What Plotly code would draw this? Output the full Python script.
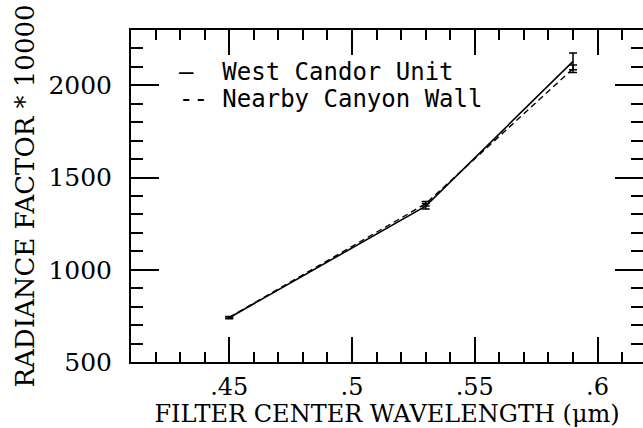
"""
Radiance factor vs filter center wavelength
"""
import plotly.graph_objects as go

# data
wavelength = [0.45, 0.53, 0.59]
west_candor = [740, 1345, 2130]
west_candor_err = [6, 15, 45]
canyon_wall = [742, 1358, 2090]
canyon_wall_err = [5, 12, 20]

x_tick_alias = {"0.45": ".45", "0.5": ".5", "0.55": ".55", "0.6": ".6"}

fig = go.Figure()

# West Candor Unit (solid)
fig.add_trace(go.Scatter(
    x=wavelength, y=west_candor,
    mode='lines',
    name='West Candor Unit',
    line=dict(color='black', width=1.6),
    error_y=dict(type='data', array=west_candor_err, color='black',
                 thickness=1.5, width=4),
))

# Nearby Canyon Wall (dashed)
fig.add_trace(go.Scatter(
    x=wavelength, y=canyon_wall,
    mode='lines',
    name='Nearby Canyon Wall',
    line=dict(color='black', width=1.4, dash='6px,4px'),
    error_y=dict(type='data', array=canyon_wall_err, color='black',
                 thickness=1.5, width=4),
))

# legend typed as text, like the original
legend_font = dict(family='DejaVu Sans Mono', size=24, color='black')
fig.add_annotation(x=0.09, y=0.875, xref='paper', yref='paper',
                   text='—  West Candor Unit', showarrow=False,
                   xanchor='left', yanchor='middle', font=legend_font)
fig.add_annotation(x=0.09, y=0.793, xref='paper', yref='paper',
                   text='-- Nearby Canyon Wall', showarrow=False,
                   xanchor='left', yanchor='middle', font=legend_font)

fig.update_layout(
    width=643, height=428,
    margin=dict(l=131, r=0, t=30, b=66),
    paper_bgcolor='white', plot_bgcolor='white',
    showlegend=False,
    font=dict(family='DejaVu Serif', color='black'),
)

fig.update_xaxes(
    range=[0.41, 0.6185],
    tickmode='linear', tick0=0.45, dtick=0.05, tickformat='.2~f',
    labelalias=x_tick_alias,
    ticks='inside', ticklen=25, tickwidth=2, tickcolor='black',
    minor=dict(dtick=0.01, tick0=0.41, ticks='inside', ticklen=10,
               tickwidth=1.5, tickcolor='black', showgrid=False),
    showline=True, linewidth=2, linecolor='black', mirror='ticks',
    showgrid=False, zeroline=False, automargin=False,
    tickfont=dict(size=24), ticklabelstandoff=2,
    title=dict(text='FILTER CENTER WAVELENGTH (μm)', font=dict(size=24), standoff=0),
)
fig.update_yaxes(
    range=[500, 2300],
    tickmode='linear', tick0=500, dtick=500,
    ticks='inside', ticklen=28, tickwidth=2, tickcolor='black',
    minor=dict(dtick=100, tick0=500, ticks='inside', ticklen=12,
               tickwidth=1.5, tickcolor='black', showgrid=False),
    showline=True, linewidth=2, linecolor='black', mirror='ticks',
    showgrid=False, zeroline=False, automargin=False,
    tickfont=dict(size=25), ticklabelstandoff=12,
    title=dict(text='RADIANCE FACTOR * 10000', font=dict(size=26), standoff=6),
)

# drop the browser's default body margin so the figure sits at the page corner
fig.write_html("out.html", config={'displayModeBar': False},
               post_script="document.body.style.margin='0';")
